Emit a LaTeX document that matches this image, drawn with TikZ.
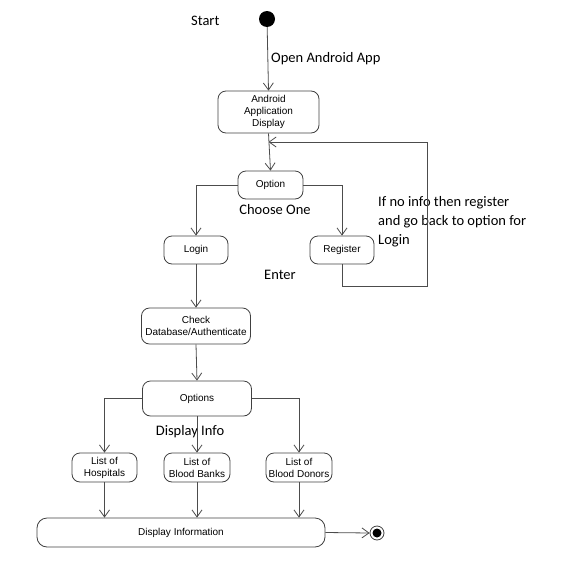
\documentclass[tikz,border=0pt]{standalone}
\usepackage{fontspec}
\setmainfont{Liberation Sans}
\newfontfamily\calfont{Carlito}
\usetikzlibrary{arrows.meta}
\begin{document}
\begin{tikzpicture}[x=1pt,y=-1pt,
  act/.style={draw=black!75, line width=0.8pt, rounded corners=8pt, align=center,
    font=\fontsize{10}{12}\selectfont, inner sep=0pt},
  flow/.style={draw=black!70, line width=0.8pt, -{Straight Barb[length=7pt,width=10pt]}},
  lbl/.style={font=\calfont\fontsize{14.5}{19}\selectfont, inner sep=0pt}]
\useasboundingbox (0,0) rectangle (561,581);
\node[circle, fill=black, minimum size=16pt, inner sep=0pt] (start) at (267,19) {};
\node[lbl, anchor=west] (tstart) at (191,21) {Start};
\node[act, minimum width=101pt, minimum height=42pt] (andr) at (268.5,112) {Android\\Application\\Display};
\node[act, minimum width=65pt, minimum height=28pt] (opt) at (270.5,185) {Option};
\node[act, minimum width=64pt, minimum height=28pt] (login) at (196,250) {Login};
\node[act, minimum width=64pt, minimum height=28pt] (reg) at (342,250) {Register};
\node[act, minimum width=109pt, minimum height=36pt] (check) at (196,326) {Check\\Database/Authenticate};
\node[act, minimum width=109pt, minimum height=35pt] (opts) at (197,398.5) {Options};
\node[act, minimum width=65pt, minimum height=29pt] (hosp) at (104.5,467.5) {List of\\Hospitals};
\node[act, minimum width=66pt, minimum height=29pt] (bank) at (197,467.5) {List of\\Blood Banks};
\node[act, minimum width=66pt, minimum height=29pt] (donor) at (299,467.5) {List of\\Blood Donors};
\node[act, rounded corners=10pt, minimum width=288pt, minimum height=29pt] (disp) at (181,532.5) {Display Information};
\node[circle, draw=black!75, line width=0.8pt, fill=white, minimum size=14pt, inner sep=0pt] (endn) at (377,533) {};
\node[circle, fill=black, minimum size=9pt, inner sep=0pt] (endi) at (377,533) {};
% labels
\node[lbl, anchor=west] (topen) at (271,59) {Open Android App};
\node[lbl] (tchoose) at (275,210) {Choose One};
\node[lbl] (tenter) at (280,275) {Enter};
\node[lbl, anchor=north west, align=left] (tif) at (378,196.5) {If no info then register\\and go back to option for\\Login};
\node[lbl] (tdisp) at (190,432) {Display Info};
% connectors
\coordinate (j) at (268.5,142);
\draw[flow] (start) -- (andr.north);
\draw[flow] (andr.south) -- (opt.north);
\draw[flow] (opt.west) -| (login.north);
\draw[flow] (opt.east) -| (reg.north);
\draw[flow] (reg.south) -- ++(0,22) -| (427,142) -- (j);
\draw[flow] (login.south) -- (check.north);
\draw[flow] (check.south) -- (opts.north);
\draw[flow] (opts.west) -| (hosp.north);
\draw[flow] (opts.south) -- (bank.north);
\draw[flow] (opts.east) -| (donor.north);
\draw[flow] (hosp.south) -- (hosp.south |- disp.north);
\draw[flow] (bank.south) -- (bank.south |- disp.north);
\draw[flow] (donor.south) -- (donor.south |- disp.north);
\draw[flow] (disp.east) -- (endn.west);
\end{tikzpicture}
\end{document}
